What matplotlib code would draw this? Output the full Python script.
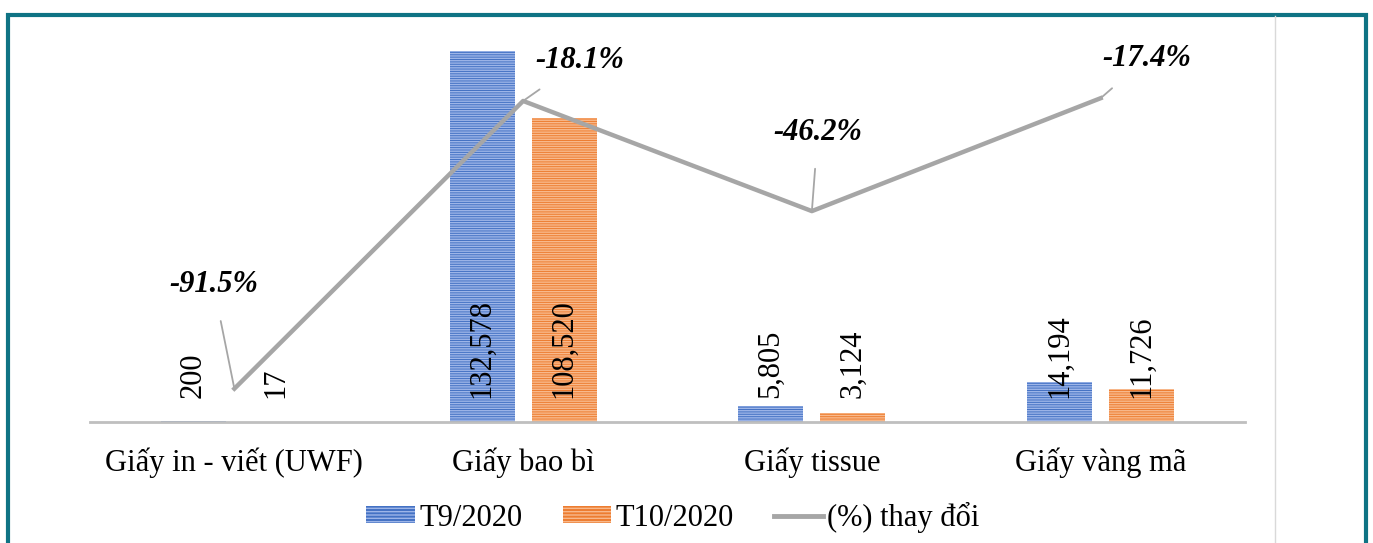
import matplotlib.pyplot as plt
from matplotlib.patches import Rectangle
from matplotlib.lines import Line2D
import numpy as np

plt.rcParams['font.family'] = ['Liberation Serif', 'DejaVu Serif']
plt.rcParams['hatch.linewidth'] = 1.0

categories = ["Giấy in - viết (UWF)", "Giấy bao bì", "Giấy tissue", "Giấy vàng mã"]
t9 = [200, 132578, 5805, 14194]
t10 = [17, 108520, 3124, 11726]
pct = [-91.5, -18.1, -46.2, -17.4]
pct_offsets = [(-21, 104), (57, 40), (6, 79), (46, 40)]  # label position in pixels from point

blue = "#4472c4"
orange = "#ed7d31"
grey = "#a6a6a6"

fig = plt.figure(figsize=(13.73, 5.43), dpi=100)
ax = fig.add_axes([90 / 1373, 1 - 422 / 543, 1155 / 1373, 392 / 543])

x = np.arange(len(categories))
w = 0.225
off = 0.142
b1 = ax.bar(x - off, t9, w, color=blue, edgecolor="#9db5e8", linewidth=0, hatch="-------")
b2 = ax.bar(x + off, t10, w, color=orange, edgecolor="#f8b98c", linewidth=0, hatch="-------")

for bars, vals in ((b1, t9), (b2, t10)):
    for rect, v in zip(bars, vals):
        ax.annotate(f"{v:,}", xy=(rect.get_x() + rect.get_width() / 2, 0), xytext=(0, 24),
                    textcoords="offset pixels", rotation=90, ha="center", va="bottom",
                    fontsize=22, color="black")

ax.set_xlim(-0.5, 3.5)
ax.set_ylim(0, 140000)
ax.set_yticks([])
ax.set_xticks(x)
ax.set_xticklabels(categories, fontsize=22)
ax.tick_params(axis="x", length=0, pad=18)
for s in ["top", "right", "left"]:
    ax.spines[s].set_visible(False)
ax.spines["bottom"].set_color("#bfbfbf")
ax.spines["bottom"].set_linewidth(2)

ax2 = ax.twinx()
ax2.plot(x, pct, color=grey, linewidth=3.2)
ax2.set_ylim(-100, 0)
ax2.set_yticks([])
for s in ["top", "right", "left", "bottom"]:
    ax2.spines[s].set_visible(False)

for xi, p, (dx, dy) in zip(x, pct, pct_offsets):
    ax2.annotate(f"{p:.1f}%", xy=(xi, p), xytext=(dx, dy), textcoords="offset pixels",
                 ha="center", va="center", fontsize=22, fontweight="bold", fontstyle="italic",
                 arrowprops=dict(arrowstyle="-", color=grey, lw=1.3, shrinkA=14, shrinkB=0))

handles = [Rectangle((0, 0), 1, 1, facecolor=blue, edgecolor="#9db5e8", linewidth=0, hatch="-----"),
           Rectangle((0, 0), 1, 1, facecolor=orange, edgecolor="#f8b98c", linewidth=0, hatch="-----"),
           Line2D([0], [0], color=grey, linewidth=3.5)]
fig.legend(handles, ["T9/2020", "T10/2020", "(%) thay đổi"], loc="center",
           bbox_to_anchor=(673 / 1373, 1 - 517 / 543), ncol=3, frameon=False, fontsize=22,
           handlelength=1.6, handleheight=0.5, handletextpad=0.15, columnspacing=1.3,
           borderpad=0)

# chart frame
fig.add_artist(Line2D([1275 / 1373, 1275 / 1373], [0, 1 - 16 / 543], transform=fig.transFigure,
                      color="#d9d9d9", linewidth=1))
fig.add_artist(Rectangle((8 / 1373, -0.05), 1358 / 1373, 1.05 - 15 / 543, transform=fig.transFigure,
                         fill=False, edgecolor="#0f7384", linewidth=3))

fig.savefig("out.png", dpi=100)
